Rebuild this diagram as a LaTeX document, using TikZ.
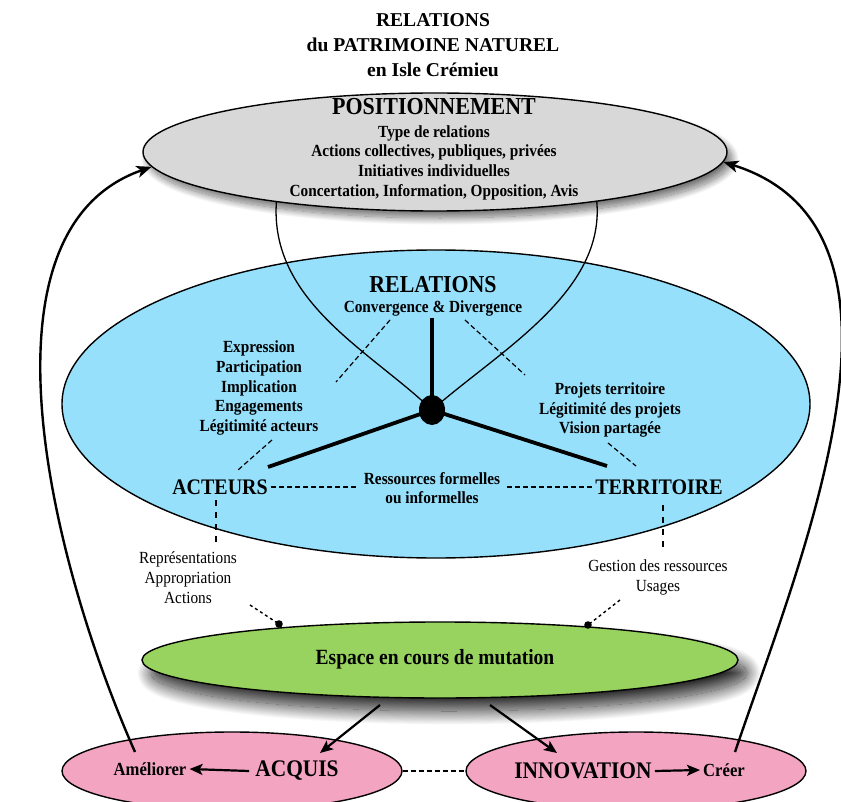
\documentclass[tikz,border=0pt]{standalone}
\usepackage{fontspec}
\setmainfont{Liberation Serif}
\newfontfamily\cond[FakeStretch=0.9]{Liberation Serif}
\usetikzlibrary{shapes.geometric,arrows.meta,shadows.blur}
\definecolor{grayf}{HTML}{D8D8D8}
\definecolor{bluef}{HTML}{96E0FB}
\definecolor{greenf}{HTML}{98D35F}
\definecolor{pinkf}{HTML}{F3A4C1}
\tikzset{
  ell/.style={ellipse,draw=black,line width=1.4pt,inner sep=0pt},
  txt/.style={inner sep=0pt,align=center,font=\cond\bfseries\fontsize{17}{19.7}\selectfont},
  big/.style={inner sep=0pt,font=\cond\bfseries\fontsize{22.2}{24}\selectfont},
  plain/.style={inner sep=0pt,align=center,font=\cond\fontsize{17}{20}\selectfont},
  dashln/.style={line width=1.2pt,dash pattern=on 5pt off 3pt},
  dotline/.style={line width=1.4pt,dash pattern=on 3pt off 3pt},
  spoke/.style={line width=3.8pt},
  bigarrow/.style={line width=2.4pt,-{Stealth[length=15pt,width=12pt,inset=4pt]}},
  midarrow/.style={line width=2.2pt,-{Stealth[length=13pt,width=11pt,inset=3pt]}},
  shad/.style={blur shadow={shadow xshift=5pt,shadow yshift=-7pt,shadow blur radius=7pt,shadow blur steps=20,shadow opacity=55}}
}
\begin{document}
\begin{tikzpicture}[x=1pt,y=-1pt]
\useasboundingbox (0,0) rectangle (841,802);
% title
\node[inner sep=0pt,align=center,font=\bfseries\fontsize{19.6}{25}\selectfont] (title) at (433,45)
  {RELATIONS\\du PATRIMOINE NATUREL\\en Isle Crémieu};
% blue ellipse
\node[ell,fill=bluef,minimum width=748pt,minimum height=308pt] (rel) at (436,404) {};
% hub
\node[ellipse,fill=black,minimum width=26pt,minimum height=30pt,inner sep=0pt] (hub) at (432,410) {};
% teardrop curves from under the grey ellipse
\coordinate (tl) at (277,195);
\coordinate (tr) at (596,195);
\draw[line width=1.3pt] (tl) .. controls (265,300) and (370,350) .. (hub.center);
\draw[line width=1.3pt] (hub.center) .. controls (500,350) and (610,290) .. (tr);
% grey ellipse
\node[ell,fill=grayf,shad,minimum width=584pt,minimum height=118pt] (pos) at (435,152) {};
\node[inner sep=0pt,font=\cond\bfseries\fontsize{24.4}{26}\selectfont] (posT) at (434,107) {POSITIONNEMENT};
\node[txt] (posL) at (434,162.5) {Type de relations\\Actions collectives, publiques, privées\\Initiatives individuelles\\Concertation, Information, Opposition, Avis};
% relations texts
\node[inner sep=0pt,font=\cond\bfseries\fontsize{24.3}{26}\selectfont] (relT) at (433,285) {RELATIONS};
\node[txt] (conv) at (433,308) {Convergence \& Divergence};
\node[txt] (left) at (259,388) {Expression\\Participation\\Implication\\Engagements\\Légitimité acteurs};
\node[txt] (right) at (610,410) {Projets territoire\\Légitimité des projets\\Vision partagée};
\node[big] (act) at (220,487) {ACTEURS};
\node[big] (ter) at (659,487) {TERRITOIRE};
\node[txt] (res) at (432,488) {Ressources formelles\\ou informelles};
% spokes
\coordinate (sUp) at (432,318);
\coordinate (sL) at (268,467);
\coordinate (sR) at (607,466);
\draw[spoke] (hub.center) -- (sUp);
\draw[spoke] (hub.center) -- (sL);
\draw[spoke] (hub.center) -- (sR);
% dashed
\coordinate (d1a) at (390,320); \coordinate (d1b) at (336,382);
\coordinate (d2a) at (465,320); \coordinate (d2b) at (525,375);
\coordinate (d3a) at (272,440); \coordinate (d3b) at (238,470);
\coordinate (d4a) at (608,443); \coordinate (d4b) at (636,466);
\draw[dashln] (d1a) -- (d1b);
\draw[dashln] (d2a) -- (d2b);
\draw[dashln] (d3a) -- (d3b);
\draw[dashln] (d4a) -- (d4b);
\draw[dashln] ([xshift=3pt]act.east) -- ([xshift=-7pt]res.north west |- act.east);
\draw[dashln] ([xshift=7pt]res.north east |- ter.west) -- ([xshift=-3pt]ter.west);
\coordinate (v1a) at (216,500); \coordinate (v1b) at (216,546);
\coordinate (v2a) at (663,505); \coordinate (v2b) at (663,547);
\draw[dashln,dash pattern=on 6pt off 6pt] (v1a) -- (v1b);
\draw[dashln,dash pattern=on 6pt off 6pt] (v2a) -- (v2b);
% side texts
\node[plain] (repr) at (188,578) {Représentations\\Appropriation\\Actions};
\node[plain] (gest) at (658,577) {Gestion des ressources\\Usages};
% green
\node[ell,fill=greenf,blur shadow={shadow xshift=9pt,shadow yshift=-13pt,shadow blur radius=14pt,shadow blur steps=30,shadow opacity=85},minimum width=596pt,minimum height=76pt] (esp) at (440,660) {};
\node[inner sep=0pt,font=\cond\bfseries\fontsize{21.7}{24}\selectfont] (espT) at (435,659) {Espace en cours de mutation};
\coordinate (p1) at (250,605); \coordinate (q1) at (279,624);
\coordinate (p2) at (620,600); \coordinate (q2) at (588,625);
\draw[dotline] (p1) -- (q1);
\draw[dotline] (p2) -- (q2);
\fill (q1) circle (3.8pt);
\fill (q2) circle (3.8pt);
% pink
\node[ell,fill=pinkf,minimum width=340pt,minimum height=78pt] (acq) at (232,771) {};
\node[ell,fill=pinkf,minimum width=340pt,minimum height=78pt] (inn) at (636,771) {};
\draw[dashln] (acq.east) -- (inn.west);
\node[inner sep=0pt,font=\cond\bfseries\fontsize{23.8}{26}\selectfont] (acqT) at (297,771) {ACQUIS};
\node[inner sep=0pt,font=\cond\bfseries\fontsize{23.8}{26}\selectfont] (innT) at (583,771) {INNOVATION};
\node[inner sep=0pt,font=\cond\bfseries\fontsize{18.5}{20}\selectfont] (ame) at (150,769) {Améliorer};
\node[inner sep=0pt,font=\cond\bfseries\fontsize{18.5}{20}\selectfont] (cre) at (724,770) {Créer};
\draw[midarrow] ([xshift=-6pt]acqT.west) -- ([xshift=3pt]ame.east);
\draw[midarrow] ([xshift=3pt]innT.east) -- ([xshift=-3pt]cre.west);
% arrows from green
\coordinate (g1) at (380,705); \coordinate (g2) at (490,705);
\coordinate (h1) at (320,753); \coordinate (h2) at (557,753);
\draw[midarrow] (g1) -- (h1);
\draw[midarrow] (g2) -- (h2);
% big arrows
\coordinate (bl) at (135,752);
\coordinate (br) at (735,752);
\draw[bigarrow] (bl) .. controls (50,560) and (-30,230) .. (pos.183);
\draw[bigarrow] (br) .. controls (800,560) and (940,230) .. (pos.358);
\end{tikzpicture}
\end{document}
